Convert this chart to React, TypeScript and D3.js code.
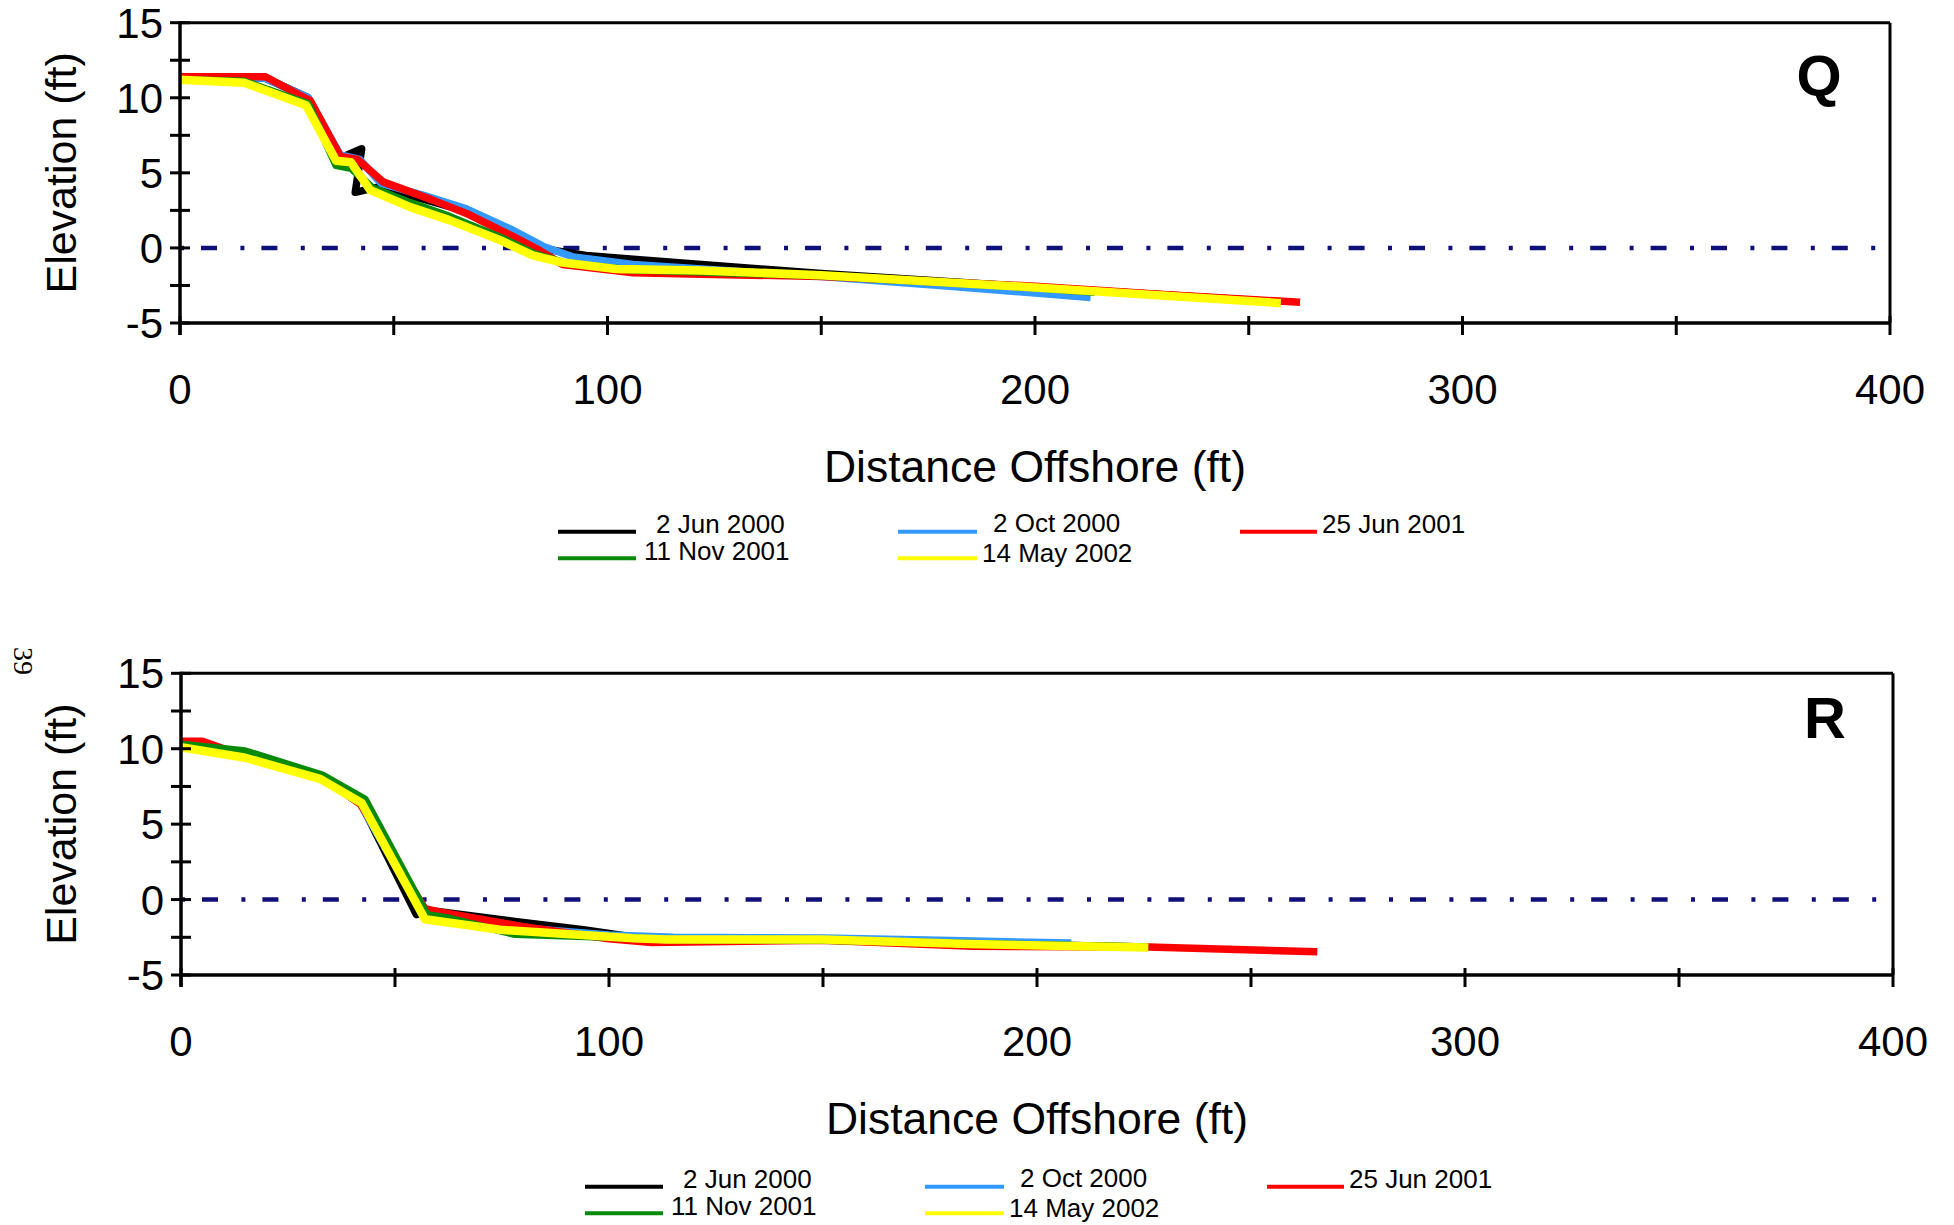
import React from 'react';
import * as d3 from 'd3';

// ---------- data ----------
const SERIES_NAMES = ['2 Jun 2000', '2 Oct 2000', '25 Jun 2001', '11 Nov 2001', '14 May 2002'];
const SERIES_COLORS = ['#000000', '#3399ff', '#ff0000', '#0a8a0a', '#ffff00'];

const X_TICKS = [0, 50, 100, 150, 200, 250, 300, 350, 400];
const X_TICK_LABELS = [0, 100, 200, 300, 400];
const Y_TICKS = [-5, -2.5, 0, 2.5, 5, 7.5, 10, 12.5, 15];
const Y_TICK_LABELS = [-5, 0, 5, 10, 15];

// Profile Q  [distance offshore (ft), elevation (ft)]
const Q_2JUN2000: [number, number][] = [
  [0, 11.3], [20, 11.3], [30, 10.0], [37.5, 6.0], [42.5, 6.6], [41, 3.7], [47, 4.1],
  [55, 3.4], [65, 2.6], [75, 1.4], [86, -0.1], [95, -0.5], [106, -0.75], [122, -1.1],
  [150, -1.7], [200, -2.6], [255, -3.55],
];
const Q_2OCT2000: [number, number][] = [
  [0, 11.3], [20, 11.3], [30, 10.0], [37.5, 6.2], [42, 5.9], [47, 4.3], [57, 3.5],
  [67, 2.6], [77, 1.3], [85, 0.1], [92, -0.6], [106, -1.1], [130, -1.55], [150, -1.9],
  [180, -2.55], [213, -3.3],
];
const Q_25JUN2001: [number, number][] = [
  [0, 11.4], [20, 11.4], [30.5, 9.8], [37.5, 6.1], [41.5, 5.9], [47.5, 4.4], [59, 3.2],
  [67, 2.3], [78, 0.75], [84, -0.15], [89.5, -1.1], [106, -1.65], [122, -1.75], [150, -1.9],
  [200, -2.55], [230, -3.1], [262, -3.62],
];
const Q_11NOV2001: [number, number][] = [
  [0, 11.2], [15, 11.1], [30, 9.6], [36.5, 5.5], [40, 5.3], [45, 4.0], [54, 3.0],
  [63, 2.1], [75, 0.7], [83, -0.4], [90, -1.0], [105, -1.45], [122, -1.6], [150, -1.85],
  [200, -2.65], [214, -2.95],
];
const Q_14MAY2002: [number, number][] = [
  [0, 11.2], [15, 11.0], [29.5, 9.5], [36.5, 5.8], [40, 5.7], [44.5, 3.85], [54, 2.7],
  [63, 1.85], [75, 0.5], [82.5, -0.5], [89, -0.95], [102, -1.4], [122, -1.5], [150, -1.82],
  [200, -2.63], [257.5, -3.68],
];

// Profile R
const R_2JUN2000: [number, number][] = [
  [0, 10.3], [15, 9.6], [34, 8.0], [42, 6.4], [55, -1.0], [59, -0.75], [78, -1.45],
  [94, -2.0], [106, -2.5], [120, -2.65], [150, -2.65], [190, -2.95], [226, -3.15],
];
const R_2OCT2000: [number, number][] = [
  [0, 10.2], [15, 9.5], [34, 7.9], [42, 6.3], [56.5, -1.0], [60, -1.1], [78, -1.85],
  [100, -2.35], [115, -2.5], [150, -2.55], [180, -2.72], [208, -2.88],
];
const R_25JUN2001: [number, number][] = [
  [0, 10.5], [5, 10.5], [15, 9.5], [34, 7.9], [42, 6.3], [57, -0.6], [60, -0.8],
  [80, -1.8], [100, -2.6], [110, -2.85], [150, -2.7], [185, -3.1], [226, -3.15], [265.5, -3.46],
];
const R_11NOV2001: [number, number][] = [
  [0, 10.3], [15, 9.85], [33, 8.25], [43, 6.65], [57.5, -1.0], [62, -1.2], [78, -2.3],
  [100, -2.5], [113, -2.65], [150, -2.7], [200, -3.0], [226, -3.15],
];
const R_14MAY2002: [number, number][] = [
  [0, 10.1], [15, 9.4], [32.5, 8.0], [42.2, 6.4], [57, -1.3], [74.5, -2.0], [105.7, -2.57],
  [113.5, -2.64], [150, -2.65], [184, -2.95], [226, -3.17],
];

const Q_SERIES = [Q_2JUN2000, Q_2OCT2000, Q_25JUN2001, Q_11NOV2001, Q_14MAY2002];
const R_SERIES = [R_2JUN2000, R_2OCT2000, R_25JUN2001, R_11NOV2001, R_14MAY2002];

// ---------- layout ----------
const FONT = "Arial, 'Liberation Sans', Helvetica, sans-serif";
const DRAW_ORDER = [0, 1, 2, 3, 4];
const LINE_WIDTHS = [7.5, 7.5, 7.5, 7.5, 8.5];

// legend layout for the top panel: [lineX1, lineX2, lineY, textX, textBaseline]
const LEGEND_LAYOUT: [number, number, number, number, number][] = [
  [558, 636, 531.7, 656, 533],   // 2 Jun 2000
  [898, 977, 531.7, 993, 531.7], // 2 Oct 2000
  [1240, 1317, 531.7, 1322, 533], // 25 Jun 2001
  [558, 636, 558.3, 644, 560],   // 11 Nov 2001
  [898, 977, 558.3, 982, 561.7], // 14 May 2002
];

type PanelProps = {
  letter: string;
  series: [number, number][][];
  x0: number; x1: number; yTop: number; yBot: number;
  legendDx: number; legendDy: number;
  letterX: number; letterY: number;
};

function Panel(p: PanelProps) {
  const x = d3.scaleLinear().domain([0, 400]).range([p.x0, p.x1]);
  const y = d3.scaleLinear().domain([-5, 15]).range([p.yBot, p.yTop]);
  const line = d3.line<[number, number]>().x(d => x(d[0])).y(d => y(d[1]));
  const tickFs = 42;
  const midY = (p.yTop + p.yBot) / 2;
  return (
    <g>
      {/* zero line */}
      <line x1={x(0)} x2={x(400)} y1={y(0)} y2={y(0)} stroke="#10107a" strokeWidth={4.5}
        strokeDasharray="4 17 16 23.4" />
      {/* series */}
      {DRAW_ORDER.map(i => (
        <path key={i} d={line(p.series[i]) || ''} fill="none" stroke={SERIES_COLORS[i]}
          strokeWidth={LINE_WIDTHS[i]} strokeLinejoin="round" strokeLinecap="butt" />
      ))}
      {/* frame */}
      <line x1={x(0)} x2={x(400)} y1={y(15)} y2={y(15)} stroke="#000" strokeWidth={3} />
      <line x1={x(400)} x2={x(400)} y1={y(15)} y2={y(-5)} stroke="#000" strokeWidth={3} />
      {/* axes */}
      <line x1={x(0)} x2={x(400)} y1={y(-5)} y2={y(-5)} stroke="#000" strokeWidth={3.5} />
      <line x1={x(0)} x2={x(0)} y1={y(15) - 1.5} y2={y(-5) + 12} stroke="#000" strokeWidth={3.5} />
      {X_TICKS.map(t => (
        <line key={'xt' + t} x1={x(t)} x2={x(t)} y1={y(-5) - 7} y2={y(-5) + 12} stroke="#000" strokeWidth={3} />
      ))}
      {Y_TICKS.map(t => (
        <line key={'yt' + t} x1={x(0) - 10} x2={x(0) + 10} y1={y(t)} y2={y(t)} stroke="#000" strokeWidth={3} />
      ))}
      {X_TICK_LABELS.map(t => (
        <text key={'xl' + t} x={x(t)} y={y(-5) + 81}
          textAnchor="middle" fontFamily={FONT} fontSize={tickFs} fill="#000">{t}</text>
      ))}
      {Y_TICK_LABELS.map(t => (
        <text key={'yl' + t} x={x(0) - 17} y={y(t) + tickFs * 0.358}
          textAnchor="end" fontFamily={FONT} fontSize={tickFs} fill="#000">{t}</text>
      ))}
      {/* titles */}
      <text x={(p.x0 + p.x1) / 2} y={p.yBot + 158.5} textAnchor="middle" fontFamily={FONT}
        fontSize={44.5} fill="#000">Distance Offshore (ft)</text>
      <text transform={`translate(76,${midY}) rotate(-90)`} textAnchor="middle" fontFamily={FONT}
        fontSize={43} fill="#000">Elevation (ft)</text>
      <text x={p.letterX} y={p.letterY} textAnchor="middle" fontFamily={FONT} fontWeight="bold"
        fontSize={58} fill="#000">{p.letter}</text>
      {/* legend */}
      {LEGEND_LAYOUT.map((l, i) => (
        <g key={'lg' + i}>
          <line x1={l[0] + p.legendDx} x2={l[1] + p.legendDx} y1={l[2] + p.legendDy} y2={l[2] + p.legendDy}
            stroke={SERIES_COLORS[i]} strokeWidth={4} />
          <text x={l[3] + p.legendDx} y={l[4] + p.legendDy} fontFamily={FONT} fontSize={26} fill="#000">
            {SERIES_NAMES[i]}
          </text>
        </g>
      ))}
    </g>
  );
}

export default function App() {
  return (
    <svg width={1954} height={1225} viewBox="0 0 1954 1225"
      style={{ position: 'absolute', left: 0, top: 0, display: 'block', background: '#fff' }}>
      <rect x={0} y={0} width={1954} height={1225} fill="#fff" />
      <Panel letter="Q" series={Q_SERIES} x0={180} x1={1890} yTop={22.7} yBot={323}
        legendDx={0} legendDy={0} letterX={1819} letterY={96} />
      <Panel letter="R" series={R_SERIES} x0={181} x1={1893} yTop={673.3} yBot={975}
        legendDx={27} legendDy={655} letterX={1825} letterY={738} />
      <text transform="translate(14,661) rotate(90)" textAnchor="middle"
        fontFamily="'Liberation Serif', 'DejaVu Serif', serif" fontSize={28} fill="#000">39</text>
    </svg>
  );
}
